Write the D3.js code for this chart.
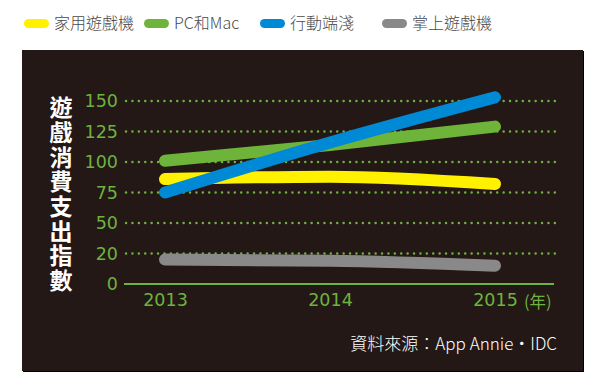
<!DOCTYPE html>
<html>
<head>
<meta charset="utf-8">
<script src="https://cdn.jsdelivr.net/npm/d3@7"></script>
<style>
  html, body { margin: 0; padding: 0; background: #fff; }
  svg { display: block; }
  .tick line { display: none; }
  .domain { display: none; }
</style>
</head>
<body>
<div id="chart"></div>
<script>
"use strict";

// data
var years = ["2013", "2014", "2015"];
var seriesNames = ["家用遊戲機", "PC和Mac", "行動端淺", "掌上遊戲機"];
var consoleVals = [86, 88, 82];
var pcVals = [101, 114, 129];
var mobileVals = [75, 116, 153];
var handheldVals = [20, 19, 15];
var yTickValues = [0, 25, 50, 75, 100, 125, 150];
var yTickLabels = ["0", "20", "50", "75", "100", "125", "150"];

var colors = ["#fff100", "#6fb43a", "#0089d5", "#898989"];
var green = "#6db33f";

var series = [consoleVals, pcVals, mobileVals, handheldVals];

var width = 600, height = 389;

var svg = d3.select("#chart")
  .append("svg")
  .attr("width", width)
  .attr("height", height);

/*
 * legend on white, above the panel
 */
var legendX = [24, 144, 260, 382];
var legend = svg.append("g");
seriesNames.forEach(function (name, i) {
  legend.append("rect")
    .attr("x", legendX[i]).attr("y", 19)
    .attr("width", 25).attr("height", 9)
    .attr("rx", 4.5)
    .attr("fill", colors[i]);
  legend.append("text")
    .attr("x", legendX[i] + 30).attr("y", 29)
    .attr("font-family", "Noto Sans CJK TC")
    .attr("font-weight", 300)
    .attr("font-size", 16)
    .attr("fill", "#4a4a4a")
    .text(name);
});

/*
 * dark panel
 */
svg.append("rect")
  .attr("x", 23).attr("y", 51)
  .attr("width", 561).attr("height", 321)
  .attr("fill", "#000");
svg.append("rect")
  .attr("x", 22).attr("y", 50)
  .attr("width", 561).attr("height", 321)
  .attr("fill", "#231815");

/*
 * scales
 */
var x = d3.scalePoint().domain(years).range([165, 495]);
var y = d3.scaleLinear().domain([0, 150]).range([284, 101]);

// dotted grid
svg.append("g")
  .selectAll("line")
  .data(yTickValues.filter(function (d) { return d > 0; }))
  .enter()
  .append("line")
  .attr("x1", 126).attr("x2", 555)
  .attr("y1", function (d) { return y(d); })
  .attr("y2", function (d) { return y(d); })
  .attr("stroke", green)
  .attr("stroke-width", 2.4)
  .attr("stroke-linecap", "round")
  .attr("stroke-dasharray", "0.1,6.3");

// baseline
svg.append("line")
  .attr("x1", 124).attr("x2", 554)
  .attr("y1", y(0)).attr("y2", y(0))
  .attr("stroke", green)
  .attr("stroke-width", 2.2);

// y axis labels
var yAxis = d3.axisLeft(y)
  .tickValues(yTickValues)
  .tickSize(0)
  .tickPadding(0)
  .tickFormat(function (d, i) { return yTickLabels[i]; });

svg.append("g")
  .attr("transform", "translate(118,0)")
  .call(yAxis)
  .selectAll("text")
  .attr("font-family", "DejaVu Sans")
  .attr("font-size", 17.5)
  .attr("fill", green);

// x axis labels
var xAxis = d3.axisBottom(x).tickSize(0).tickPadding(0);
svg.append("g")
  .attr("transform", "translate(0,294)")
  .call(xAxis)
  .selectAll("text")
  .attr("font-family", "DejaVu Sans")
  .attr("font-size", 17.5)
  .attr("fill", green);

svg.append("text")
  .attr("x", x("2015") + 29).attr("y", 308)
  .attr("font-family", "Noto Sans CJK TC")
  .attr("font-size", 16.5)
  .attr("fill", green)
  .text("(年)");

// y title, vertical
svg.append("text")
  .attr("x", 61)
  .attr("y", 96)
  .attr("writing-mode", "vertical-rl")
  .attr("font-family", "Noto Sans CJK TC")
  .attr("font-weight", 700)
  .attr("font-size", 23)
  .attr("letter-spacing", 1.7)
  .attr("fill", "#fff")
  .text("遊戲消費支出指數");

/*
 * lines
 */
var line = d3.line()
  .x(function (d, i) { return x(years[i]); })
  .y(function (d) { return y(d); })
  .curve(d3.curveMonotoneX);

svg.append("g")
  .selectAll("path")
  .data([handheldVals, consoleVals, pcVals, mobileVals])
  .enter()
  .append("path")
  .attr("d", line)
  .attr("fill", "none")
  .attr("stroke", function (d) { return colors[series.indexOf(d)]; })
  .attr("stroke-width", 12)
  .attr("stroke-linecap", "round");

// source
svg.append("text")
  .attr("x", 557).attr("y", 350)
  .attr("text-anchor", "end")
  .attr("font-family", "Noto Sans CJK TC")
  .attr("font-weight", 300)
  .attr("font-size", 17)
  .attr("fill", "#fff")
  .text("資料來源：App Annie‧IDC");
</script>
</body>
</html>
